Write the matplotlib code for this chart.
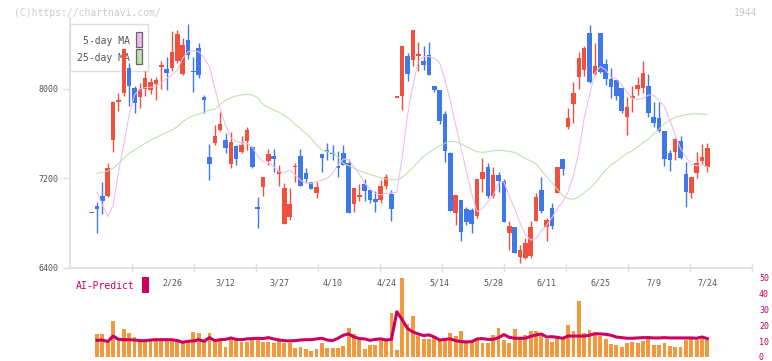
import numpy as np
import matplotlib
matplotlib.use("Agg")
import matplotlib.pyplot as plt
from matplotlib.patches import Rectangle
import matplotlib.transforms as mtransforms

plt.rcParams['font.family'] = ['DejaVu Sans Mono']

# ---------------- data ----------------
open_ = [6895, 6952, 7041, 7044, 7543, 7883, 7964, 8191, 8006, 7931,
         8000, 7994, 8048, 8200, 8179, 8191, 8251, 8134, 8439, 8161,
         8364, 7928, 7394, 7513, 7632, 7543, 7328, 7489, 7435, 7537,
         7480, 6943, 7125, 7358, 7399, 7241, 6793, 6856, 7301, 7399,
         7247, 7167, 7071, 7417, 7453, 7429, 7307, 7423, 7334, 6972,
         7035, 7149, 7095, 7014, 7005, 7131, 7059, 7928, 7940, 8296,
         8263, 8299, 8251, 8305, 8027, 7991, 7776, 7426, 6892, 7002,
         6922, 6916, 6862, 7193, 7301, 7041, 7229, 7175, 6712, 6763,
         6497, 6488, 6506, 6820, 7095, 6763, 6934, 7071, 7373, 7659,
         7865, 8110, 8170, 8502, 8134, 8502, 8224, 8089, 8081, 8009,
         7749, 7922, 8000, 8009, 8027, 7749, 7740, 7624, 7426, 7438,
         7534, 7238, 7071, 7247, 7355, 7301]
high = [6895, 6990, 7164, 7334, 7892, 7961, 8358, 8230, 8030, 8051,
        8161, 8095, 8110, 8251, 8284, 8520, 8529, 8454, 8582, 8284,
        8409, 7946, 7504, 7677, 7797, 7609, 7612, 7498, 7579, 7659,
        7489, 7035, 7211, 7462, 7462, 7319, 7161, 7113, 7337, 7462,
        7292, 7167, 7167, 7417, 7516, 7498, 7444, 7498, 7373, 7113,
        7149, 7193, 7107, 7086, 7184, 7238, 7095, 7928, 8385, 8325,
        8529, 8421, 8385, 8421, 8027, 7991, 7800, 7435, 7050, 7002,
        6939, 6931, 7193, 7382, 7337, 7301, 7256, 7193, 6817, 6763,
        6602, 6665, 6817, 7070, 7211, 6844, 6975, 7301, 7373, 7830,
        8063, 8331, 8385, 8573, 8412, 8502, 8269, 8188, 8081, 8009,
        7928, 8027, 8107, 8251, 8134, 7883, 7883, 7624, 7453, 7561,
        7579, 7346, 7211, 7435, 7507, 7516]
low = [6895, 6712, 6877, 7035, 7438, 7803, 7940, 7851, 7788, 7827,
       7940, 7955, 7904, 7997, 7991, 8161, 8230, 8125, 8266, 7976,
       8095, 7788, 7184, 7498, 7624, 7429, 7295, 7319, 7426, 7453,
       7289, 6757, 7044, 7319, 7259, 7134, 6793, 6826, 7169, 7134,
       7167, 7107, 7026, 7259, 7367, 7364, 7211, 7319, 6892, 6901,
       6999, 6999, 6981, 6901, 6981, 7107, 6820, 7928, 7815, 8075,
       8209, 8164, 8173, 8128, 7976, 7689, 7349, 6910, 6784, 6641,
       6781, 6712, 6841, 7077, 7023, 7023, 7077, 6811, 6557, 6528,
       6444, 6474, 6483, 6820, 6892, 6641, 6748, 7071, 7232, 7641,
       7695, 8000, 8116, 8057, 8125, 8143, 8036, 7919, 7901, 7785,
       7588, 7794, 7946, 7964, 7749, 7659, 7618, 7313, 7265, 7364,
       7373, 6942, 7023, 7202, 7328, 7256]
close = [6895, 6928, 6999, 7292, 7883, 7898, 8358, 8030, 7877, 8000,
         8098, 8063, 8081, 8215, 8146, 8328, 8493, 8394, 8305, 8149,
         8125, 7904, 7328, 7579, 7686, 7474, 7525, 7373, 7498, 7632,
         7301, 6928, 7211, 7417, 7376, 7265, 7113, 6969, 7313, 7134,
         7190, 7107, 7122, 7385, 7438, 7423, 7295, 7319, 6892, 7113,
         7050, 7089, 7008, 6990, 7131, 7211, 6928, 7928, 8385, 8137,
         8529, 8314, 8215, 8128, 7994, 7716, 7447, 6910, 7050, 6721,
         6811, 6793, 7193, 7256, 7041, 7229, 7172, 6811, 6772, 6528,
         6557, 6620, 6764, 7035, 6910, 6826, 6775, 7301, 7286, 7740,
         7964, 8278, 8367, 8066, 8206, 8152, 8089, 8018, 7937, 7803,
         7839, 7937, 8036, 8143, 7785, 7695, 7624, 7373, 7364, 7552,
         7382, 7077, 7211, 7337, 7391, 7471]
ma5 = [np.nan, 7074, 6961, 6859, 6954, 7259, 7498, 7767, 7946, 8000,
       8012, 8015, 8021, 8051, 8095, 8125, 8170, 8275, 8334, 8340,
       8334, 8280, 8200, 8006, 7820, 7677, 7565, 7528, 7520, 7513,
       7480, 7400, 7349, 7343, 7304, 7259, 7253, 7274, 7229, 7184,
       7155, 7155, 7170, 7184, 7199, 7244, 7320, 7373, 7364, 7304,
       7235, 7155, 7104, 7065, 7050, 7065, 7071, 7075, 7390, 7767,
       8030, 8245, 8290, 8290, 8275, 8235, 8080, 7890, 7677, 7470,
       7259, 7060, 6900, 6931, 6990, 7050, 7155, 7170, 7040, 6931,
       6800, 6700, 6647, 6660, 6730, 6781, 6850, 6931, 6990, 7080,
       7229, 7438, 7737, 7946, 8140, 8200, 8170, 8110, 8090, 8036,
       7970, 7916, 7907, 7916, 7946, 7940, 7892, 7842, 7722, 7588,
       7468, 7394, 7325, 7313, 7319, 7304]
ma25 = [np.nan, 7244, 7253, 7265, 7289, 7334, 7379, 7423, 7453, 7483,
        7513, 7543, 7564, 7588, 7612, 7632, 7662, 7707, 7737, 7761,
        7776, 7791, 7812, 7815, 7862, 7898, 7922, 7937, 7946, 7952,
        7946, 7922, 7862, 7833, 7812, 7791, 7761, 7731, 7683, 7647,
        7603, 7558, 7498, 7453, 7438, 7429, 7390, 7334, 7313, 7289,
        7268, 7250, 7235, 7220, 7205, 7193, 7187, 7187, 7208, 7250,
        7295, 7349, 7394, 7432, 7462, 7489, 7513, 7531, 7528, 7507,
        7483, 7459, 7438, 7432, 7438, 7447, 7450, 7447, 7440, 7432,
        7405, 7378, 7355, 7330, 7270, 7214, 7160, 7100, 7045, 7018,
        7012, 7035, 7070, 7110, 7155, 7215, 7274, 7320, 7350, 7390,
        7423, 7447, 7483, 7520, 7550, 7600, 7640, 7692, 7720, 7745,
        7760, 7770, 7776, 7778, 7776, 7767]
volume = [np.nan, 14.3, 14.3, 9.5, 22.5, 11.1, 17.4, 14.9, 12.4, 10.1,
          10.7, 11.1, 11.6, 11.1, 11.1, 11.1, 11.1, 10.1, 10.1, 15.8,
          15.1, 10.1, 15.1, 10.1, 11.1, 6.5, 11.1, 12.2, 9.5, 9.5,
          11.6, 11.1, 9.5, 9.5, 8.6, 11.1, 8.6, 8.6, 5.9, 6.3,
          5.0, 3.6, 4.9, 8.6, 5.5, 5.5, 5.5, 6.7, 18.3, 14.3,
          10.7, 4.9, 7.4, 7.4, 11.6, 11.6, 27.9, 4.4, 49.6, 20.6,
          25.8, 13.2, 11.1, 11.1, 12.6, 10.5, 10.5, 14.9, 13.2, 16.4,
          10.1, 10.1, 11.6, 9.1, 8.6, 13.7, 18.1, 10.7, 8.6, 17.4,
          11.1, 13.7, 16.4, 16.4, 13.2, 11.1, 9.5, 12.2, 11.6, 19.9,
          16.2, 35.1, 14.9, 16.8, 14.9, 13.2, 11.6, 8.0, 7.4, 6.5,
          8.6, 9.7, 9.1, 10.1, 13.2, 7.4, 7.4, 8.6, 6.9, 6.5,
          6.5, 10.7, 11.6, 10.5, 11.1, 10.5]
ai_predict = [np.nan, 10.5, 10.7, 9.7, 13.2, 11.1, 10.9, 10.9, 10.7, 10.3,
              10.3, 10.7, 10.9, 10.9, 10.9, 10.9, 10.3, 9.3, 9.9, 10.1,
              10.9, 9.9, 12.2, 10.3, 10.9, 11.1, 12.0, 11.1, 10.9, 11.4,
              11.6, 11.8, 11.6, 12.2, 11.4, 10.7, 10.3, 10.1, 10.3, 10.7,
              10.9, 10.9, 11.4, 11.8, 10.7, 10.3, 11.8, 13.7, 14.5, 12.6,
              11.6, 11.4, 10.5, 11.1, 11.4, 10.7, 11.1, 28.5, 23.5, 17.9,
              15.8, 14.5, 13.5, 13.9, 12.6, 10.7, 11.1, 11.4, 10.3, 9.7,
              9.5, 9.7, 11.4, 11.6, 11.1, 11.1, 12.2, 14.1, 12.4, 11.8,
              11.8, 11.8, 13.0, 13.9, 14.5, 12.6, 12.8, 12.4, 11.8, 13.2,
              13.2, 13.2, 13.2, 13.7, 14.7, 14.5, 14.3, 13.7, 12.6, 12.2,
              11.8, 11.8, 12.0, 12.2, 12.2, 12.0, 12.0, 12.2, 12.0, 12.0,
              12.0, 12.0, 12.0, 11.8, 12.6, 11.6]
date_labels = ["2/26", "3/12", "3/27", "4/10", "4/24", "5/14",
               "5/28", "6/11", "6/25", "7/9", "7/24"]
date_label_idx = [15, 25, 35, 45, 55, 65, 75, 85, 95, 105, 115]
price_ticks = [6400, 7200, 8000]
vol_ticks = [0, 10, 20, 30, 40, 50]

# ---------------- styling ----------------
RED = '#f0503e'
BLUE = '#3f78e8'
ORANGE = '#f2993f'
CRIMSON = '#cc0060'
PINK = '#ecbcee'
GREEN = '#bde0ad'
GRID = '#dddddd'
TXT = '#555555'

W, H = 772, 361
fig = plt.figure(figsize=(W / 100, H / 100), dpi=100)
fig.patch.set_facecolor('white')

x = np.arange(len(close))
o = np.array(open_, float)
c = np.array(close, float)
hi = np.array(high, float)
lo = np.array(low, float)

xmin, xmax = -4.05, 123.35

# main price axes
ax = fig.add_axes([70 / W, 1 - 268 / H, 682 / W, 250 / H])
ax.set_facecolor('none')
ax.set_xlim(xmin, xmax)
ax.set_ylim(6397, 8635)
for s in ['top', 'right']:
    ax.spines[s].set_visible(False)
for s in ['left', 'bottom']:
    ax.spines[s].set_color(GRID)
    ax.spines[s].set_linewidth(1.2)

ax.set_yticks(price_ticks)
ax.set_yticklabels([str(t) for t in price_ticks])
ax.tick_params(axis='y', length=5, width=1, color=GRID, labelsize=6,
               labelcolor=TXT, pad=3)
ax.set_xticks(np.linspace(xmin, xmax, 12)[1:])
ax.set_xticklabels([])
ax.tick_params(axis='x', direction='inout', length=6, width=1, color=GRID)

# legend box (beneath the candles)
ax.add_patch(Rectangle((0.0, 0.788), 0.1144, 0.188, transform=ax.transAxes,
                       facecolor='white', edgecolor=GRID, lw=1.0,
                       zorder=1, clip_on=False))
ax.text(0.0880, 0.908, "5-day MA", transform=ax.transAxes, ha='right',
        va='center', fontsize=7, color=TXT, zorder=2)
ax.text(0.0880, 0.840, "25-day MA", transform=ax.transAxes, ha='right',
        va='center', fontsize=7, color=TXT, zorder=2)
ax.add_patch(Rectangle((0.0968, 0.886), 0.0095, 0.060, transform=ax.transAxes,
                       facecolor=PINK, edgecolor='#666666', lw=0.9,
                       zorder=2, clip_on=False))
ax.add_patch(Rectangle((0.0968, 0.818), 0.0095, 0.060, transform=ax.transAxes,
                       facecolor=GREEN, edgecolor='#666666', lw=0.9,
                       zorder=2, clip_on=False))

# candles
up = c >= o
colors = np.where(up, RED, BLUE)
ax.vlines(x, lo, hi, colors=colors, linewidth=1.0, zorder=3)
min_h = 12.0
body_h = np.maximum(np.abs(c - o), min_h)
body_b = np.minimum(o, c) - np.where(np.abs(c - o) < min_h, min_h / 2, 0)
ax.bar(x, body_h, bottom=body_b, width=0.85, color=colors, linewidth=0,
       zorder=4)

# moving averages
ax.plot(x, ma25, color=GREEN, lw=0.75, zorder=5)
ax.plot(x, ma5, color=PINK, lw=0.75, zorder=5)

# date labels
trans = mtransforms.blended_transform_factory(ax.transData, ax.transAxes)
for idx, lab in zip(date_label_idx, date_labels):
    ax.text(idx, -0.058, lab, transform=trans, ha='center', va='center',
            fontsize=6, color=TXT, clip_on=False)

# volume axes
vax = fig.add_axes([70 / W, 1 - 357 / H, 682 / W, 87 / H])
vax.set_facecolor('none')
vax.set_xlim(xmin, xmax)
vax.set_ylim(0, 54.8)
for s in vax.spines.values():
    s.set_visible(False)
vax.set_xticks([])
vax.yaxis.tick_right()
vax.set_yticks(vol_ticks)
vax.set_yticklabels([str(t) for t in vol_ticks])
vax.tick_params(axis='y', length=0, pad=5, labelsize=6, labelcolor=CRIMSON)
vax.bar(x, volume, width=0.72, color=ORANGE, linewidth=0, zorder=2)
vax.plot(x, ai_predict, color=CRIMSON, lw=2.2, zorder=3,
         solid_joinstyle='round')

# AI-Predict legend
fig.text(76 / W, 1 - 286 / H, "AI-Predict", color=CRIMSON, fontsize=7,
         ha='left', va='center')
fig.add_artist(Rectangle((142 / W, 1 - 293 / H), 7 / W, 16 / H,
                         transform=fig.transFigure, facecolor=CRIMSON,
                         edgecolor='none'))

# watermark and code
fig.text(14 / W, 1 - 12.5 / H, "(C)https://chartnavi.com/", color='#cccccc',
         fontsize=7, ha='left', va='center')
fig.text(757 / W, 1 - 12.5 / H, "1944", color='#cccccc', fontsize=7,
         ha='right', va='center')

fig.savefig('out.png', dpi=100)
